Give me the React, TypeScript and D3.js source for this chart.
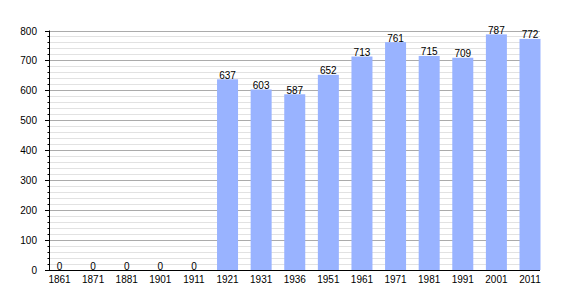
import React from "react";
import * as d3 from "d3";

const years = ["1861","1871","1881","1901","1911","1921","1931","1936","1951","1961","1971","1981","1991","2001","2011"];
const population = [0,0,0,0,0,637,603,587,652,713,761,715,709,787,772];
const yTicks = [0,100,200,300,400,500,600,700,800];

export default function App() {
  const W = 570, H = 300;
  const left = 50, right = 540, top = 30.5, bottom = 270;
  const x = d3.scalePoint<string>().domain(years).range([59.5, 530]);
  const y = d3.scaleLinear().domain([0, 800]).range([bottom, top]);
  const minor = d3.range(0, 801, 20).filter(v => v % 100 !== 0);
  const barW = 21;
  const font = "Liberation Sans, Arial, sans-serif";
  return (
    <svg width={W} height={H} style={{ position: "absolute", left: 0, top: 0, background: "#fff" }}>
      {minor.map(v => (
        <line key={"m" + v} x1={left} x2={right} y1={Math.round(y(v)) + 0.5} y2={Math.round(y(v)) + 0.5} stroke="#e2e2e2" strokeWidth={1} />
      ))}
      {yTicks.filter(v => v > 0).map(v => (
        <line key={"g" + v} x1={left} x2={right} y1={Math.round(y(v)) + 0.5} y2={Math.round(y(v)) + 0.5} stroke="#ababab" strokeWidth={1} />
      ))}
      {years.map((yr, i) => (
        <rect key={yr} x={(x(yr) as number) - barW / 2} y={y(population[i])} width={barW} height={bottom - y(population[i])} fill="#99b3ff" />
      ))}
      {minor.map(v => (
        <line key={"mt" + v} x1={47.5} x2={left} y1={Math.round(y(v)) + 0.5} y2={Math.round(y(v)) + 0.5} stroke="#000" strokeWidth={1} />
      ))}
      {yTicks.map(v => (
        <line key={"t" + v} x1={45} x2={left} y1={Math.round(y(v)) + 0.5} y2={Math.round(y(v)) + 0.5} stroke="#000" strokeWidth={1} />
      ))}
      <line x1={left - 0.5} x2={left - 0.5} y1={top} y2={bottom + 0.5} stroke="#000" strokeWidth={1} />
      <line x1={45} x2={right} y1={bottom + 0.5} y2={bottom + 0.5} stroke="#000" strokeWidth={1} />
      {yTicks.map(v => (
        <text key={"yl" + v} x={37} y={y(v) + 4} textAnchor="end" fontFamily={font} fontSize={10} fill="#000">{v}</text>
      ))}
      {years.map(yr => (
        <text key={"xl" + yr} x={x(yr) as number} y={283} textAnchor="middle" fontFamily={font} fontSize={10} fill="#000">{yr}</text>
      ))}
      {years.map((yr, i) => (
        <text key={"vl" + yr} x={x(yr) as number} y={y(population[i]) - 0.5} textAnchor="middle" fontFamily={font} fontSize={10} fill="#000">{population[i]}</text>
      ))}
    </svg>
  );
}
